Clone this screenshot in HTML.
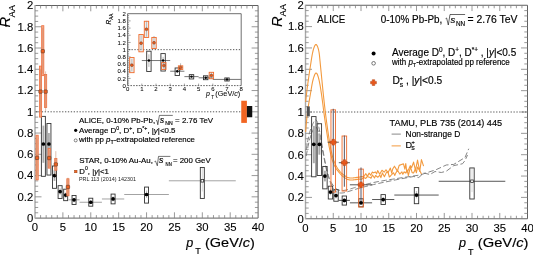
<!DOCTYPE html>
<html><head><meta charset="utf-8"><style>html,body{margin:0;padding:0;background:#fff;width:533px;height:256px;overflow:hidden}svg{display:block;will-change:transform}text{font-family:"Liberation Sans",sans-serif;stroke:#000;stroke-width:0.16px}</style></head><body>
<svg width="533" height="256" viewBox="0 0 533 256" font-family="Liberation Sans, sans-serif" fill="#000">
<rect width="533" height="256" fill="#fff"/>
<path d="M35.00 5.50H258.10V218.10H35.00" fill="none" stroke="#606060" stroke-width="1"/>
<line x1="35.00" y1="5.00" x2="35.00" y2="218.60" stroke="#a8a8a8" stroke-width="1.4"/>
<path d="M40.58 218.10v-3.0 M40.58 5.50v3.0 M46.16 218.10v-3.0 M46.16 5.50v3.0 M51.73 218.10v-3.0 M51.73 5.50v3.0 M57.31 218.10v-3.0 M57.31 5.50v3.0 M62.89 218.10v-5.8 M62.89 5.50v5.8 M68.47 218.10v-3.0 M68.47 5.50v3.0 M74.04 218.10v-3.0 M74.04 5.50v3.0 M79.62 218.10v-3.0 M79.62 5.50v3.0 M85.20 218.10v-3.0 M85.20 5.50v3.0 M90.78 218.10v-5.8 M90.78 5.50v5.8 M96.35 218.10v-3.0 M96.35 5.50v3.0 M101.93 218.10v-3.0 M101.93 5.50v3.0 M107.51 218.10v-3.0 M107.51 5.50v3.0 M113.08 218.10v-3.0 M113.08 5.50v3.0 M118.66 218.10v-5.8 M118.66 5.50v5.8 M124.24 218.10v-3.0 M124.24 5.50v3.0 M129.82 218.10v-3.0 M129.82 5.50v3.0 M135.39 218.10v-3.0 M135.39 5.50v3.0 M140.97 218.10v-3.0 M140.97 5.50v3.0 M146.55 218.10v-5.8 M146.55 5.50v5.8 M152.13 218.10v-3.0 M152.13 5.50v3.0 M157.70 218.10v-3.0 M157.70 5.50v3.0 M163.28 218.10v-3.0 M163.28 5.50v3.0 M168.86 218.10v-3.0 M168.86 5.50v3.0 M174.44 218.10v-5.8 M174.44 5.50v5.8 M180.01 218.10v-3.0 M180.01 5.50v3.0 M185.59 218.10v-3.0 M185.59 5.50v3.0 M191.17 218.10v-3.0 M191.17 5.50v3.0 M196.75 218.10v-3.0 M196.75 5.50v3.0 M202.32 218.10v-5.8 M202.32 5.50v5.8 M207.90 218.10v-3.0 M207.90 5.50v3.0 M213.48 218.10v-3.0 M213.48 5.50v3.0 M219.06 218.10v-3.0 M219.06 5.50v3.0 M224.63 218.10v-3.0 M224.63 5.50v3.0 M230.21 218.10v-5.8 M230.21 5.50v5.8 M235.79 218.10v-3.0 M235.79 5.50v3.0 M241.37 218.10v-3.0 M241.37 5.50v3.0 M246.94 218.10v-3.0 M246.94 5.50v3.0 M252.52 218.10v-3.0 M252.52 5.50v3.0 M35.00 212.78h3.2 M258.10 212.78h-3.2 M35.00 207.47h3.2 M258.10 207.47h-3.2 M35.00 202.16h3.2 M258.10 202.16h-3.2 M35.00 196.84h6.5 M258.10 196.84h-6.5 M35.00 191.53h3.2 M258.10 191.53h-3.2 M35.00 186.21h3.2 M258.10 186.21h-3.2 M35.00 180.89h3.2 M258.10 180.89h-3.2 M35.00 175.58h6.5 M258.10 175.58h-6.5 M35.00 170.26h3.2 M258.10 170.26h-3.2 M35.00 164.95h3.2 M258.10 164.95h-3.2 M35.00 159.63h3.2 M258.10 159.63h-3.2 M35.00 154.32h6.5 M258.10 154.32h-6.5 M35.00 149.00h3.2 M258.10 149.00h-3.2 M35.00 143.69h3.2 M258.10 143.69h-3.2 M35.00 138.38h3.2 M258.10 138.38h-3.2 M35.00 133.06h6.5 M258.10 133.06h-6.5 M35.00 127.74h3.2 M258.10 127.74h-3.2 M35.00 122.43h3.2 M258.10 122.43h-3.2 M35.00 117.11h3.2 M258.10 117.11h-3.2 M35.00 111.80h6.5 M258.10 111.80h-6.5 M35.00 106.48h3.2 M258.10 106.48h-3.2 M35.00 101.17h3.2 M258.10 101.17h-3.2 M35.00 95.85h3.2 M258.10 95.85h-3.2 M35.00 90.54h6.5 M258.10 90.54h-6.5 M35.00 85.22h3.2 M258.10 85.22h-3.2 M35.00 79.91h3.2 M258.10 79.91h-3.2 M35.00 74.59h3.2 M258.10 74.59h-3.2 M35.00 69.28h6.5 M258.10 69.28h-6.5 M35.00 63.96h3.2 M258.10 63.96h-3.2 M35.00 58.65h3.2 M258.10 58.65h-3.2 M35.00 53.34h3.2 M258.10 53.34h-3.2 M35.00 48.02h6.5 M258.10 48.02h-6.5 M35.00 42.70h3.2 M258.10 42.70h-3.2 M35.00 37.39h3.2 M258.10 37.39h-3.2 M35.00 32.07h3.2 M258.10 32.07h-3.2 M35.00 26.76h6.5 M258.10 26.76h-6.5 M35.00 21.44h3.2 M258.10 21.44h-3.2 M35.00 16.13h3.2 M258.10 16.13h-3.2 M35.00 10.81h3.2 M258.10 10.81h-3.2" stroke="#808080" stroke-width="0.8" fill="none"/>
<text x="35.00" y="231.30" font-size="11.3" text-anchor="middle" style="stroke-width:0.1px">0</text>
<text x="62.89" y="231.30" font-size="11.3" text-anchor="middle" style="stroke-width:0.1px">5</text>
<text x="90.78" y="231.30" font-size="11.3" text-anchor="middle" style="stroke-width:0.1px">10</text>
<text x="118.66" y="231.30" font-size="11.3" text-anchor="middle" style="stroke-width:0.1px">15</text>
<text x="146.55" y="231.30" font-size="11.3" text-anchor="middle" style="stroke-width:0.1px">20</text>
<text x="174.44" y="231.30" font-size="11.3" text-anchor="middle" style="stroke-width:0.1px">25</text>
<text x="202.32" y="231.30" font-size="11.3" text-anchor="middle" style="stroke-width:0.1px">30</text>
<text x="230.21" y="231.30" font-size="11.3" text-anchor="middle" style="stroke-width:0.1px">35</text>
<text x="258.10" y="231.30" font-size="11.3" text-anchor="middle" style="stroke-width:0.1px">40</text>
<text x="33.20" y="221.90" font-size="11.3" text-anchor="end" style="stroke-width:0.1px">0</text>
<text x="33.20" y="200.64" font-size="11.3" text-anchor="end" style="stroke-width:0.1px">0.2</text>
<text x="33.20" y="179.38" font-size="11.3" text-anchor="end" style="stroke-width:0.1px">0.4</text>
<text x="33.20" y="158.12" font-size="11.3" text-anchor="end" style="stroke-width:0.1px">0.6</text>
<text x="33.20" y="136.86" font-size="11.3" text-anchor="end" style="stroke-width:0.1px">0.8</text>
<text x="33.20" y="115.60" font-size="11.3" text-anchor="end" style="stroke-width:0.1px">1</text>
<text x="33.20" y="94.34" font-size="11.3" text-anchor="end" style="stroke-width:0.1px">1.2</text>
<text x="33.20" y="73.08" font-size="11.3" text-anchor="end" style="stroke-width:0.1px">1.4</text>
<text x="33.20" y="51.82" font-size="11.3" text-anchor="end" style="stroke-width:0.1px">1.6</text>
<text x="33.20" y="30.56" font-size="11.3" text-anchor="end" style="stroke-width:0.1px">1.8</text>
<text x="33.20" y="9.30" font-size="11.3" text-anchor="end" style="stroke-width:0.1px">2</text>
<line x1="36.00" y1="111.80" x2="241.00" y2="111.80" stroke="#444" stroke-width="0.9" stroke-dasharray="1.3,1.6"/>
<line x1="43.37" y1="125.62" x2="43.37" y2="162.82" stroke="#aaa" stroke-width="1.80"/>
<rect x="41.37" y="116.37" width="4.00" height="59.95" fill="none" stroke="#333" stroke-width="0.9"/>
<circle cx="43.37" cy="144.01" r="1.85" fill="#000"/>
<line x1="48.94" y1="133.06" x2="48.94" y2="154.32" stroke="#aaa" stroke-width="1.80"/>
<rect x="46.94" y="123.49" width="4.00" height="51.56" fill="none" stroke="#333" stroke-width="0.9"/>
<circle cx="48.94" cy="144.01" r="1.85" fill="#000"/>
<line x1="54.52" y1="170.26" x2="54.52" y2="180.89" stroke="#aaa" stroke-width="1.80"/>
<rect x="52.52" y="166.01" width="4.00" height="22.32" fill="none" stroke="#333" stroke-width="0.9"/>
<circle cx="54.52" cy="175.58" r="1.85" fill="#000"/>
<line x1="60.10" y1="188.34" x2="60.10" y2="194.71" stroke="#c4c4c4" stroke-width="1.10"/>
<rect x="58.10" y="185.68" width="4.00" height="12.76" fill="none" stroke="#333" stroke-width="0.9"/>
<circle cx="60.10" cy="191.53" r="1.85" fill="#000"/>
<line x1="65.68" y1="192.59" x2="65.68" y2="197.90" stroke="#c4c4c4" stroke-width="1.10"/>
<rect x="63.68" y="189.19" width="4.00" height="11.48" fill="none" stroke="#333" stroke-width="0.9"/>
<circle cx="65.68" cy="195.03" r="1.85" fill="#000"/>
<line x1="68.47" y1="199.82" x2="79.62" y2="199.82" stroke="#999" stroke-width="0.9"/>
<line x1="74.04" y1="197.90" x2="74.04" y2="202.16" stroke="#c4c4c4" stroke-width="1.10"/>
<rect x="72.04" y="195.46" width="4.00" height="9.04" fill="none" stroke="#333" stroke-width="0.9"/>
<circle cx="74.04" cy="199.82" r="1.85" fill="#000"/>
<line x1="79.62" y1="202.26" x2="101.93" y2="202.26" stroke="#999" stroke-width="0.9"/>
<line x1="90.78" y1="200.03" x2="90.78" y2="204.28" stroke="#c4c4c4" stroke-width="1.10"/>
<rect x="88.78" y="198.22" width="4.00" height="7.97" fill="none" stroke="#333" stroke-width="0.9"/>
<circle cx="90.78" cy="202.26" r="1.85" fill="#000"/>
<line x1="101.93" y1="198.97" x2="124.24" y2="198.97" stroke="#999" stroke-width="0.9"/>
<line x1="113.08" y1="196.31" x2="113.08" y2="201.62" stroke="#c4c4c4" stroke-width="1.10"/>
<rect x="111.08" y="194.08" width="4.00" height="9.78" fill="none" stroke="#333" stroke-width="0.9"/>
<circle cx="113.08" cy="198.97" r="1.85" fill="#000"/>
<line x1="124.24" y1="194.50" x2="168.86" y2="194.50" stroke="#999" stroke-width="0.9"/>
<line x1="146.55" y1="190.46" x2="146.55" y2="197.90" stroke="#c4c4c4" stroke-width="1.10"/>
<rect x="144.55" y="187.06" width="4.00" height="16.05" fill="none" stroke="#333" stroke-width="0.9"/>
<circle cx="146.55" cy="194.50" r="1.85" fill="#000"/>
<line x1="168.86" y1="180.79" x2="235.79" y2="180.79" stroke="#999" stroke-width="0.9"/>
<line x1="202.32" y1="167.50" x2="202.32" y2="191.53" stroke="#d0d0d0" stroke-width="0.80"/>
<rect x="200.32" y="167.50" width="4.00" height="30.93" fill="none" stroke="#333" stroke-width="0.9"/>
<rect x="201.02" y="179.49" width="2.60" height="2.60" fill="#fff" stroke="#333" stroke-width="0.8"/>
<rect x="36.02" y="135.19" width="2.20" height="44.65" fill="#f5ab88" stroke="#ef7040" stroke-width="0.8"/>
<line x1="37.12" y1="139.44" x2="37.12" y2="175.58" stroke="#c08060" stroke-width="0.5"/>
<rect x="35.42" y="156.13" width="3.40" height="3.40" rx="0.6" fill="#f06020" stroke="#5a3a2a" stroke-width="0.6"/>
<rect x="39.42" y="66.09" width="2.20" height="51.02" fill="#f5ab88" stroke="#ef7040" stroke-width="0.8"/>
<line x1="40.52" y1="69.28" x2="40.52" y2="111.80" stroke="#c08060" stroke-width="0.5"/>
<rect x="38.82" y="89.90" width="3.40" height="3.40" rx="0.6" fill="#f06020" stroke="#5a3a2a" stroke-width="0.6"/>
<rect x="41.65" y="25.70" width="2.20" height="49.96" fill="#f5ab88" stroke="#ef7040" stroke-width="0.8"/>
<line x1="42.75" y1="27.82" x2="42.75" y2="73.53" stroke="#c08060" stroke-width="0.5"/>
<rect x="41.05" y="49.51" width="3.40" height="3.40" rx="0.6" fill="#f06020" stroke="#5a3a2a" stroke-width="0.6"/>
<rect x="44.50" y="74.59" width="2.20" height="32.95" fill="#f5ab88" stroke="#ef7040" stroke-width="0.8"/>
<line x1="45.60" y1="71.41" x2="45.60" y2="111.27" stroke="#c08060" stroke-width="0.5"/>
<rect x="43.90" y="89.90" width="3.40" height="3.40" rx="0.6" fill="#f06020" stroke="#5a3a2a" stroke-width="0.6"/>
<rect x="48.12" y="148.47" width="2.20" height="19.67" fill="#f5ab88" stroke="#ef7040" stroke-width="0.8"/>
<line x1="49.22" y1="150.07" x2="49.22" y2="167.08" stroke="#c08060" stroke-width="0.5"/>
<rect x="47.52" y="156.34" width="3.40" height="3.40" rx="0.6" fill="#f06020" stroke="#5a3a2a" stroke-width="0.6"/>
<rect x="54.70" y="158.57" width="2.20" height="11.69" fill="#f5ab88" stroke="#ef7040" stroke-width="0.8"/>
<line x1="55.80" y1="151.13" x2="55.80" y2="175.58" stroke="#c08060" stroke-width="0.5"/>
<rect x="54.10" y="162.72" width="3.40" height="3.40" rx="0.6" fill="#f06020" stroke="#5a3a2a" stroke-width="0.6"/>
<rect x="66.81" y="178.77" width="2.20" height="17.01" fill="#f5ab88" stroke="#ef7040" stroke-width="0.8"/>
<line x1="67.91" y1="177.71" x2="67.91" y2="195.78" stroke="#c08060" stroke-width="0.5"/>
<rect x="66.21" y="185.25" width="3.40" height="3.40" rx="0.6" fill="#f06020" stroke="#5a3a2a" stroke-width="0.6"/>
<rect x="241.25" y="100.75" width="5.65" height="22.15" fill="#f26522" stroke="none" stroke-width="0"/>
<rect x="246.90" y="106.00" width="5.35" height="11.25" fill="#111" stroke="none" stroke-width="0"/>
<g transform="translate(10.4,27.4) rotate(-90)" style="stroke-width:0.05px"><text x="0" y="0" font-size="14.8" font-style="italic" style="stroke-width:0.08px">R</text><text x="9.9" y="4.85" font-size="9.4" style="stroke-width:0.08px">AA</text></g>
<text x="186.2" y="247.3" font-size="12.6" font-style="italic">p</text>
<text x="195.2" y="254.3" font-size="9">T</text>
<text x="205.0" y="247.3" font-size="12.6" textLength="49.9" lengthAdjust="spacingAndGlyphs">(GeV/<tspan font-style="italic">c</tspan>)</text>
<text x="79.00" y="122.60" font-size="7.9" text-anchor="start" textLength="76.20" lengthAdjust="spacingAndGlyphs" >ALICE, 0-10% Pb-Pb,</text>
<path d="M156.00 121.00 L157.00 120.40 L157.80 124.80 L159.40 115.40 H172.80" stroke="#000" stroke-width="0.55" fill="none"/>
<text x="159.9" y="122.6" font-size="8.2" font-style="italic">s</text>
<text x="165.3" y="124.6" font-size="5.2" textLength="7.4" lengthAdjust="spacingAndGlyphs">NN</text>
<text x="175.10" y="122.60" font-size="7.9" text-anchor="start" textLength="38.00" lengthAdjust="spacingAndGlyphs" >= 2.76 TeV</text>
<circle cx="75.7" cy="130.3" r="1.6" fill="#000"/>
<text x="79.0" y="132.6" font-size="7.9" textLength="96.5" lengthAdjust="spacingAndGlyphs">Average D<tspan dy="-3" font-size="5.2">0</tspan><tspan dy="3">, D</tspan><tspan dy="-3" font-size="5.2">+</tspan><tspan dy="3">, D</tspan><tspan dy="-3" font-size="5.2">*+</tspan><tspan dy="3">, |</tspan><tspan font-style="italic">y</tspan>|&lt;0.5</text>
<circle cx="75.7" cy="140.4" r="1.5" fill="#fff" stroke="#333" stroke-width="0.6"/>
<text x="79.0" y="142.1" font-size="7.3" textLength="116" lengthAdjust="spacingAndGlyphs">with pp <tspan font-style="italic">p</tspan><tspan dy="2" font-size="5">T</tspan><tspan dy="-2">-extrapolated reference</tspan></text>
<text x="79.35" y="163.40" font-size="7.9" text-anchor="start" textLength="73.60" lengthAdjust="spacingAndGlyphs" >STAR, 0-10% Au-Au,</text>
<path d="M154.50 161.60 L155.50 161.00 L157.30 165.80 L158.50 156.40 H170.40" stroke="#000" stroke-width="0.55" fill="none"/>
<text x="159.0" y="163.4" font-size="8.8" font-style="italic">s</text>
<text x="165.6" y="165.7" font-size="5.4" textLength="6.2" lengthAdjust="spacingAndGlyphs">NN</text>
<text x="173.00" y="163.40" font-size="7.9" text-anchor="start" textLength="37.60" lengthAdjust="spacingAndGlyphs" >= 200 GeV</text>
<rect x="74.45" y="170.2" width="2.6" height="2.6" fill="#f26522" stroke="#8a3a10" stroke-width="0.4"/>
<text x="79.35" y="173.75" font-size="7.9" textLength="29.6" lengthAdjust="spacingAndGlyphs">D<tspan dy="-3.4" font-size="5.2">0</tspan><tspan dy="3.4">, |</tspan><tspan font-style="italic">y</tspan>|&lt;1</text>
<text x="79.0" y="181.2" font-size="5.0" textLength="56.9" lengthAdjust="spacingAndGlyphs" fill="#222" style="stroke-width:0">PRL 113 (2014) 142301</text>
<rect x="127.60" y="13.70" width="113.60" height="71.90" fill="#fff" stroke="none"/>
<path d="M127.60 85.60V13.70H241.20V85.60" fill="none" stroke="#606060" stroke-width="0.9"/>
<line x1="127.60" y1="85.60" x2="241.20" y2="85.60" stroke="#555" stroke-width="0.9" stroke-dasharray="1.6,1.2"/>
<path d="M127.60 83.80h1.5 M127.60 82.00h1.5 M127.60 80.21h1.5 M127.60 78.41h3 M127.60 76.61h1.5 M127.60 74.81h1.5 M127.60 73.02h1.5 M127.60 71.22h3 M127.60 69.42h1.5 M127.60 67.62h1.5 M127.60 65.83h1.5 M127.60 64.03h3 M127.60 62.23h1.5 M127.60 60.43h1.5 M127.60 58.64h1.5 M127.60 56.84h3 M127.60 55.04h1.5 M127.60 53.24h1.5 M127.60 51.45h1.5 M127.60 49.65h3 M127.60 47.85h1.5 M127.60 46.05h1.5 M127.60 44.26h1.5 M127.60 42.46h3 M127.60 40.66h1.5 M127.60 38.86h1.5 M127.60 37.07h1.5 M127.60 35.27h3 M127.60 33.47h1.5 M127.60 31.67h1.5 M127.60 29.88h1.5 M127.60 28.08h3 M127.60 26.28h1.5 M127.60 24.48h1.5 M127.60 22.69h1.5 M127.60 20.89h3 M127.60 19.09h1.5 M127.60 17.29h1.5 M127.60 15.50h1.5 M141.80 85.60v-2 M156.00 85.60v-2 M170.20 85.60v-2 M184.40 85.60v-2 M198.60 85.60v-2 M212.80 85.60v-2 M227.00 85.60v-2" stroke="#606060" stroke-width="0.6" fill="none"/>
<text x="127.60" y="90.90" font-size="6.0" text-anchor="middle"  style="stroke-width:0.05px">0</text>
<text x="141.80" y="90.90" font-size="6.0" text-anchor="middle"  style="stroke-width:0.05px">1</text>
<text x="156.00" y="90.90" font-size="6.0" text-anchor="middle"  style="stroke-width:0.05px">2</text>
<text x="170.20" y="90.90" font-size="6.0" text-anchor="middle"  style="stroke-width:0.05px">3</text>
<text x="184.40" y="90.90" font-size="6.0" text-anchor="middle"  style="stroke-width:0.05px">4</text>
<text x="198.60" y="90.90" font-size="6.0" text-anchor="middle"  style="stroke-width:0.05px">5</text>
<text x="212.80" y="90.90" font-size="6.0" text-anchor="middle"  style="stroke-width:0.05px">6</text>
<text x="227.00" y="90.90" font-size="6.0" text-anchor="middle"  style="stroke-width:0.05px">7</text>
<text x="241.20" y="90.90" font-size="6.0" text-anchor="middle"  style="stroke-width:0.05px">8</text>
<text x="125.80" y="87.80" font-size="6.0" text-anchor="end"  style="stroke-width:0.05px">0</text>
<text x="125.80" y="80.61" font-size="6.0" text-anchor="end"  style="stroke-width:0.05px">0.2</text>
<text x="125.80" y="73.42" font-size="6.0" text-anchor="end"  style="stroke-width:0.05px">0.4</text>
<text x="125.80" y="66.23" font-size="6.0" text-anchor="end"  style="stroke-width:0.05px">0.6</text>
<text x="125.80" y="59.04" font-size="6.0" text-anchor="end"  style="stroke-width:0.05px">0.8</text>
<text x="125.80" y="51.85" font-size="6.0" text-anchor="end"  style="stroke-width:0.05px">1</text>
<text x="125.80" y="44.66" font-size="6.0" text-anchor="end"  style="stroke-width:0.05px">1.2</text>
<text x="125.80" y="37.47" font-size="6.0" text-anchor="end"  style="stroke-width:0.05px">1.4</text>
<text x="125.80" y="30.28" font-size="6.0" text-anchor="end"  style="stroke-width:0.05px">1.6</text>
<text x="125.80" y="23.09" font-size="6.0" text-anchor="end"  style="stroke-width:0.05px">1.8</text>
<text x="125.80" y="15.90" font-size="6.0" text-anchor="end"  style="stroke-width:0.05px">2</text>
<line x1="128.60" y1="49.65" x2="241.20" y2="49.65" stroke="#444" stroke-width="0.9" stroke-dasharray="1.3,1.6"/>
<g transform="translate(111,24.4) rotate(-90)"><text x="0" y="0" font-size="6.4" font-style="italic">R</text><text x="4.6" y="2.1" font-size="4.6">AA</text></g>
<text x="206.0" y="96.3" font-size="7.0" font-style="italic" style="stroke-width:0.05px">p</text>
<text x="211.3" y="98.9" font-size="4.8" style="stroke-width:0.05px">T</text>
<text x="215.3" y="96.3" font-size="7.0" textLength="25.0" lengthAdjust="spacingAndGlyphs" style="stroke-width:0.05px">(GeV/<tspan font-style="italic">c</tspan>)</text>
<line x1="141.80" y1="60.54" x2="156.00" y2="60.54" stroke="#666" stroke-width="0.9"/>
<line x1="148.90" y1="54.32" x2="148.90" y2="66.91" stroke="#888" stroke-width="0.6"/>
<rect x="146.70" y="51.20" width="4.40" height="20.28" fill="none" stroke="#333" stroke-width="0.9"/>
<circle cx="148.90" cy="60.54" r="1.2" fill="#000"/>
<line x1="156.00" y1="60.54" x2="170.20" y2="60.54" stroke="#666" stroke-width="0.9"/>
<line x1="163.10" y1="56.84" x2="163.10" y2="64.03" stroke="#888" stroke-width="0.6"/>
<rect x="160.90" y="53.60" width="4.40" height="17.44" fill="none" stroke="#333" stroke-width="0.9"/>
<circle cx="163.10" cy="60.54" r="1.2" fill="#000"/>
<line x1="170.20" y1="71.22" x2="184.40" y2="71.22" stroke="#666" stroke-width="0.9"/>
<line x1="177.30" y1="69.42" x2="177.30" y2="73.02" stroke="#888" stroke-width="0.6"/>
<rect x="175.10" y="67.98" width="4.40" height="7.55" fill="none" stroke="#333" stroke-width="0.9"/>
<circle cx="177.30" cy="71.22" r="1.2" fill="#000"/>
<line x1="184.40" y1="76.61" x2="198.60" y2="76.61" stroke="#666" stroke-width="0.9"/>
<line x1="191.50" y1="75.53" x2="191.50" y2="77.69" stroke="#888" stroke-width="0.6"/>
<rect x="189.30" y="74.64" width="4.40" height="4.31" fill="none" stroke="#333" stroke-width="0.9"/>
<circle cx="191.50" cy="76.61" r="1.2" fill="#000"/>
<line x1="198.60" y1="77.80" x2="212.80" y2="77.80" stroke="#666" stroke-width="0.9"/>
<line x1="205.70" y1="76.97" x2="205.70" y2="78.77" stroke="#888" stroke-width="0.6"/>
<rect x="203.50" y="75.82" width="4.40" height="3.88" fill="none" stroke="#333" stroke-width="0.9"/>
<circle cx="205.70" cy="77.80" r="1.2" fill="#000"/>
<line x1="212.80" y1="79.42" x2="241.20" y2="79.42" stroke="#666" stroke-width="0.9"/>
<line x1="227.00" y1="78.77" x2="227.00" y2="80.21" stroke="#888" stroke-width="0.6"/>
<rect x="224.80" y="77.94" width="4.40" height="3.06" fill="none" stroke="#333" stroke-width="0.9"/>
<circle cx="227.00" cy="79.42" r="1.2" fill="#000"/>
<line x1="131.86" y1="59.00" x2="131.86" y2="71.22" stroke="#888" stroke-width="0.6"/>
<rect x="129.66" y="57.56" width="4.40" height="15.10" fill="rgba(200,200,200,0.35)" stroke="#ef6a2a" stroke-width="0.9"/>
<circle cx="131.86" cy="65.22" r="1.45" fill="#ea5a1c" stroke="#6a3a20" stroke-width="0.45"/>
<line x1="141.09" y1="35.27" x2="141.09" y2="49.65" stroke="#888" stroke-width="0.6"/>
<rect x="138.89" y="34.55" width="4.40" height="17.26" fill="rgba(200,200,200,0.35)" stroke="#ef6a2a" stroke-width="0.9"/>
<circle cx="141.09" cy="43.18" r="1.45" fill="#ea5a1c" stroke="#6a3a20" stroke-width="0.45"/>
<line x1="146.49" y1="20.89" x2="146.49" y2="36.71" stroke="#888" stroke-width="0.6"/>
<rect x="144.29" y="21.25" width="4.40" height="16.18" fill="rgba(200,200,200,0.35)" stroke="#ef6a2a" stroke-width="0.9"/>
<circle cx="146.49" cy="29.30" r="1.45" fill="#ea5a1c" stroke="#6a3a20" stroke-width="0.45"/>
<line x1="154.01" y1="35.99" x2="154.01" y2="48.93" stroke="#888" stroke-width="0.6"/>
<rect x="151.81" y="37.43" width="4.40" height="11.14" fill="rgba(200,200,200,0.35)" stroke="#ef6a2a" stroke-width="0.9"/>
<circle cx="154.01" cy="42.82" r="1.45" fill="#ea5a1c" stroke="#6a3a20" stroke-width="0.45"/>
<line x1="163.81" y1="61.87" x2="163.81" y2="69.06" stroke="#888" stroke-width="0.6"/>
<rect x="161.61" y="62.59" width="4.40" height="6.83" fill="rgba(200,200,200,0.35)" stroke="#ef6a2a" stroke-width="0.9"/>
<circle cx="163.81" cy="65.61" r="1.45" fill="#ea5a1c" stroke="#6a3a20" stroke-width="0.45"/>
<line x1="180.57" y1="63.31" x2="180.57" y2="71.22" stroke="#888" stroke-width="0.6"/>
<rect x="178.37" y="65.83" width="4.40" height="3.59" fill="rgba(200,200,200,0.35)" stroke="#ef6a2a" stroke-width="0.9"/>
<circle cx="180.57" cy="67.62" r="1.45" fill="#ea5a1c" stroke="#6a3a20" stroke-width="0.45"/>
<line x1="211.38" y1="72.30" x2="211.38" y2="78.41" stroke="#888" stroke-width="0.6"/>
<rect x="209.18" y="72.30" width="4.40" height="6.47" fill="rgba(200,200,200,0.35)" stroke="#ef6a2a" stroke-width="0.9"/>
<circle cx="211.38" cy="75.53" r="1.45" fill="#ea5a1c" stroke="#6a3a20" stroke-width="0.45"/>
<path d="M305.50 5.25H527.50V218.75H305.50" fill="none" stroke="#606060" stroke-width="1"/>
<line x1="305.50" y1="4.75" x2="305.50" y2="219.25" stroke="#a8a8a8" stroke-width="1.4"/>
<path d="M311.05 218.75v-3.0 M311.05 5.25v3.0 M316.60 218.75v-3.0 M316.60 5.25v3.0 M322.15 218.75v-3.0 M322.15 5.25v3.0 M327.70 218.75v-3.0 M327.70 5.25v3.0 M333.25 218.75v-5.8 M333.25 5.25v5.8 M338.80 218.75v-3.0 M338.80 5.25v3.0 M344.35 218.75v-3.0 M344.35 5.25v3.0 M349.90 218.75v-3.0 M349.90 5.25v3.0 M355.45 218.75v-3.0 M355.45 5.25v3.0 M361.00 218.75v-5.8 M361.00 5.25v5.8 M366.55 218.75v-3.0 M366.55 5.25v3.0 M372.10 218.75v-3.0 M372.10 5.25v3.0 M377.65 218.75v-3.0 M377.65 5.25v3.0 M383.20 218.75v-3.0 M383.20 5.25v3.0 M388.75 218.75v-5.8 M388.75 5.25v5.8 M394.30 218.75v-3.0 M394.30 5.25v3.0 M399.85 218.75v-3.0 M399.85 5.25v3.0 M405.40 218.75v-3.0 M405.40 5.25v3.0 M410.95 218.75v-3.0 M410.95 5.25v3.0 M416.50 218.75v-5.8 M416.50 5.25v5.8 M422.05 218.75v-3.0 M422.05 5.25v3.0 M427.60 218.75v-3.0 M427.60 5.25v3.0 M433.15 218.75v-3.0 M433.15 5.25v3.0 M438.70 218.75v-3.0 M438.70 5.25v3.0 M444.25 218.75v-5.8 M444.25 5.25v5.8 M449.80 218.75v-3.0 M449.80 5.25v3.0 M455.35 218.75v-3.0 M455.35 5.25v3.0 M460.90 218.75v-3.0 M460.90 5.25v3.0 M466.45 218.75v-3.0 M466.45 5.25v3.0 M472.00 218.75v-5.8 M472.00 5.25v5.8 M477.55 218.75v-3.0 M477.55 5.25v3.0 M483.10 218.75v-3.0 M483.10 5.25v3.0 M488.65 218.75v-3.0 M488.65 5.25v3.0 M494.20 218.75v-3.0 M494.20 5.25v3.0 M499.75 218.75v-5.8 M499.75 5.25v5.8 M505.30 218.75v-3.0 M505.30 5.25v3.0 M510.85 218.75v-3.0 M510.85 5.25v3.0 M516.40 218.75v-3.0 M516.40 5.25v3.0 M521.95 218.75v-3.0 M521.95 5.25v3.0 M305.50 213.41h3.2 M527.50 213.41h-3.2 M305.50 208.07h3.2 M527.50 208.07h-3.2 M305.50 202.74h3.2 M527.50 202.74h-3.2 M305.50 197.40h6.5 M527.50 197.40h-6.5 M305.50 192.06h3.2 M527.50 192.06h-3.2 M305.50 186.72h3.2 M527.50 186.72h-3.2 M305.50 181.39h3.2 M527.50 181.39h-3.2 M305.50 176.05h6.5 M527.50 176.05h-6.5 M305.50 170.71h3.2 M527.50 170.71h-3.2 M305.50 165.38h3.2 M527.50 165.38h-3.2 M305.50 160.04h3.2 M527.50 160.04h-3.2 M305.50 154.70h6.5 M527.50 154.70h-6.5 M305.50 149.36h3.2 M527.50 149.36h-3.2 M305.50 144.02h3.2 M527.50 144.02h-3.2 M305.50 138.69h3.2 M527.50 138.69h-3.2 M305.50 133.35h6.5 M527.50 133.35h-6.5 M305.50 128.01h3.2 M527.50 128.01h-3.2 M305.50 122.67h3.2 M527.50 122.67h-3.2 M305.50 117.34h3.2 M527.50 117.34h-3.2 M305.50 112.00h6.5 M527.50 112.00h-6.5 M305.50 106.66h3.2 M527.50 106.66h-3.2 M305.50 101.32h3.2 M527.50 101.32h-3.2 M305.50 95.99h3.2 M527.50 95.99h-3.2 M305.50 90.65h6.5 M527.50 90.65h-6.5 M305.50 85.31h3.2 M527.50 85.31h-3.2 M305.50 79.97h3.2 M527.50 79.97h-3.2 M305.50 74.64h3.2 M527.50 74.64h-3.2 M305.50 69.30h6.5 M527.50 69.30h-6.5 M305.50 63.96h3.2 M527.50 63.96h-3.2 M305.50 58.62h3.2 M527.50 58.62h-3.2 M305.50 53.29h3.2 M527.50 53.29h-3.2 M305.50 47.95h6.5 M527.50 47.95h-6.5 M305.50 42.61h3.2 M527.50 42.61h-3.2 M305.50 37.27h3.2 M527.50 37.27h-3.2 M305.50 31.94h3.2 M527.50 31.94h-3.2 M305.50 26.60h6.5 M527.50 26.60h-6.5 M305.50 21.26h3.2 M527.50 21.26h-3.2 M305.50 15.92h3.2 M527.50 15.92h-3.2 M305.50 10.59h3.2 M527.50 10.59h-3.2" stroke="#808080" stroke-width="0.8" fill="none"/>
<text x="305.50" y="231.95" font-size="11.3" text-anchor="middle" style="stroke-width:0.1px">0</text>
<text x="333.25" y="231.95" font-size="11.3" text-anchor="middle" style="stroke-width:0.1px">5</text>
<text x="361.00" y="231.95" font-size="11.3" text-anchor="middle" style="stroke-width:0.1px">10</text>
<text x="388.75" y="231.95" font-size="11.3" text-anchor="middle" style="stroke-width:0.1px">15</text>
<text x="416.50" y="231.95" font-size="11.3" text-anchor="middle" style="stroke-width:0.1px">20</text>
<text x="444.25" y="231.95" font-size="11.3" text-anchor="middle" style="stroke-width:0.1px">25</text>
<text x="472.00" y="231.95" font-size="11.3" text-anchor="middle" style="stroke-width:0.1px">30</text>
<text x="499.75" y="231.95" font-size="11.3" text-anchor="middle" style="stroke-width:0.1px">35</text>
<text x="527.50" y="231.95" font-size="11.3" text-anchor="middle" style="stroke-width:0.1px">40</text>
<text x="303.70" y="222.55" font-size="11.3" text-anchor="end" style="stroke-width:0.1px">0</text>
<text x="303.70" y="201.20" font-size="11.3" text-anchor="end" style="stroke-width:0.1px">0.2</text>
<text x="303.70" y="179.85" font-size="11.3" text-anchor="end" style="stroke-width:0.1px">0.4</text>
<text x="303.70" y="158.50" font-size="11.3" text-anchor="end" style="stroke-width:0.1px">0.6</text>
<text x="303.70" y="137.15" font-size="11.3" text-anchor="end" style="stroke-width:0.1px">0.8</text>
<text x="303.70" y="115.80" font-size="11.3" text-anchor="end" style="stroke-width:0.1px">1</text>
<text x="303.70" y="94.45" font-size="11.3" text-anchor="end" style="stroke-width:0.1px">1.2</text>
<text x="303.70" y="73.10" font-size="11.3" text-anchor="end" style="stroke-width:0.1px">1.4</text>
<text x="303.70" y="51.75" font-size="11.3" text-anchor="end" style="stroke-width:0.1px">1.6</text>
<text x="303.70" y="30.40" font-size="11.3" text-anchor="end" style="stroke-width:0.1px">1.8</text>
<text x="303.70" y="9.05" font-size="11.3" text-anchor="end" style="stroke-width:0.1px">2</text>
<line x1="310.50" y1="112.00" x2="526.50" y2="112.00" stroke="#444" stroke-width="0.9" stroke-dasharray="1.3,1.6"/>
<path d="M306.20 150.00 L306.42 148.73 L306.71 147.02 L307.05 144.97 L307.43 142.72 L307.85 140.37 L308.29 138.06 L308.74 135.89 L309.20 134.00 L309.69 132.29 L310.23 130.60 L310.80 128.96 L311.38 127.41 L311.96 125.96 L312.52 124.64 L313.04 123.48 L313.50 122.50 L313.90 121.70 L314.25 121.04 L314.56 120.53 L314.86 120.16 L315.13 119.92 L315.41 119.82 L315.70 119.84 L316.00 120.00 L316.31 120.25 L316.62 120.60 L316.93 121.06 L317.24 121.66 L317.56 122.42 L317.89 123.39 L318.24 124.57 L318.60 126.00 L318.98 127.74 L319.38 129.79 L319.79 132.08 L320.21 134.56 L320.65 137.16 L321.09 139.80 L321.54 142.44 L322.00 145.00 L322.47 147.58 L322.96 150.27 L323.46 153.04 L323.96 155.81 L324.47 158.55 L324.99 161.20 L325.50 163.70 L326.00 166.00 L326.49 168.12 L326.95 170.12 L327.41 172.00 L327.88 173.78 L328.35 175.46 L328.86 177.05 L329.40 178.56 L330.00 180.00 L330.65 181.37 L331.36 182.66 L332.10 183.88 L332.88 185.00 L333.66 186.03 L334.45 186.96 L335.24 187.79 L336.00 188.50 L336.74 189.08 L337.45 189.54 L338.16 189.88 L338.88 190.12 L339.60 190.29 L340.36 190.40 L341.15 190.46 L342.00 190.50 L342.89 190.49 L343.81 190.41 L344.77 190.26 L345.75 190.06 L346.77 189.83 L347.81 189.56 L348.89 189.28 L350.00 189.00 L351.11 188.70 L352.22 188.38 L353.34 188.03 L354.50 187.66 L355.72 187.26 L357.03 186.86 L358.45 186.43 L360.00 186.00 L361.66 185.55 L363.39 185.07 L365.21 184.57 L367.12 184.06 L369.15 183.54 L371.30 183.02 L373.58 182.51 L376.00 182.00 L378.78 181.47 L382.00 180.91 L385.47 180.32 L389.00 179.75 L392.41 179.21 L395.50 178.72 L398.09 178.31 L400.00 178.00 L420.00 175.00 L436.25 169.60 L446.25 165.00 L453.75 164.40 L465.00 157.50 L468.75 148.75" fill="none" stroke="#777" stroke-width="0.9" stroke-linejoin="round" stroke-dasharray="5.5,2.5"/>
<path d="M306.20 156.00 L306.45 154.73 L306.78 153.01 L307.17 150.95 L307.60 148.69 L308.07 146.34 L308.55 144.02 L309.03 141.87 L309.50 140.00 L309.98 138.32 L310.49 136.69 L311.01 135.11 L311.55 133.62 L312.08 132.25 L312.59 131.00 L313.07 129.91 L313.50 129.00 L313.88 128.26 L314.22 127.66 L314.53 127.20 L314.81 126.88 L315.09 126.70 L315.38 126.66 L315.67 126.76 L316.00 127.00 L316.35 127.38 L316.70 127.91 L317.07 128.57 L317.44 129.38 L317.82 130.32 L318.20 131.41 L318.60 132.63 L319.00 134.00 L319.41 135.54 L319.83 137.27 L320.25 139.17 L320.69 141.19 L321.13 143.31 L321.58 145.51 L322.04 147.75 L322.50 150.00 L322.97 152.35 L323.45 154.86 L323.94 157.47 L324.44 160.12 L324.94 162.76 L325.45 165.33 L325.97 167.76 L326.50 170.00 L327.04 172.08 L327.58 174.07 L328.13 175.98 L328.69 177.78 L329.25 179.49 L329.83 181.10 L330.41 182.60 L331.00 184.00 L331.59 185.29 L332.19 186.47 L332.79 187.55 L333.41 188.53 L334.03 189.41 L334.67 190.20 L335.32 190.89 L336.00 191.50 L336.69 192.00 L337.38 192.38 L338.09 192.66 L338.81 192.84 L339.56 192.96 L340.34 193.01 L341.15 193.02 L342.00 193.00 L342.89 192.92 L343.81 192.77 L344.77 192.55 L345.75 192.28 L346.77 191.98 L347.81 191.65 L348.89 191.32 L350.00 191.00 L351.11 190.68 L352.22 190.34 L353.34 189.99 L354.50 189.62 L355.72 189.24 L357.03 188.84 L358.45 188.43 L360.00 188.00 L361.66 187.55 L363.39 187.09 L365.21 186.62 L367.12 186.12 L369.15 185.62 L371.30 185.09 L373.58 184.55 L376.00 184.00 L378.78 183.39 L382.00 182.70 L385.47 181.98 L389.00 181.25 L392.41 180.55 L395.50 179.92 L398.09 179.39 L400.00 179.00 L413.75 176.50 L418.75 177.50 L423.75 173.00 L430.00 174.50 L435.00 171.50 L441.25 172.50 L446.25 171.25 L453.75 165.60 L462.50 163.75 L465.00 160.60 L467.50 155.00" fill="none" stroke="#777" stroke-width="0.9" stroke-linejoin="round" stroke-dasharray="5.5,2.5"/>
<path d="M305.60 102.00 L305.74 100.79 L305.92 99.20 L306.14 97.30 L306.38 95.19 L306.64 92.92 L306.92 90.59 L307.21 88.25 L307.50 86.00 L307.80 83.75 L308.13 81.39 L308.47 78.96 L308.82 76.50 L309.18 74.04 L309.54 71.61 L309.90 69.25 L310.25 67.00 L310.59 64.79 L310.93 62.57 L311.27 60.36 L311.61 58.22 L311.95 56.17 L312.29 54.26 L312.64 52.52 L313.00 51.00 L313.36 49.64 L313.74 48.40 L314.12 47.30 L314.50 46.34 L314.88 45.57 L315.26 44.99 L315.63 44.63 L316.00 44.50 L316.37 44.63 L316.74 45.01 L317.11 45.61 L317.48 46.41 L317.84 47.37 L318.18 48.47 L318.50 49.69 L318.80 51.00 L319.06 52.37 L319.27 53.82 L319.47 55.39 L319.64 57.09 L319.82 58.98 L320.02 61.07 L320.24 63.40 L320.50 66.00 L320.80 68.97 L321.13 72.31 L321.49 75.94 L321.86 79.75 L322.24 83.66 L322.63 87.56 L323.01 91.38 L323.40 95.00 L323.78 98.46 L324.15 101.87 L324.53 105.23 L324.91 108.56 L325.30 111.89 L325.71 115.23 L326.14 118.59 L326.60 122.00 L327.10 125.55 L327.62 129.27 L328.18 133.06 L328.75 136.84 L329.33 140.52 L329.90 144.00 L330.46 147.19 L331.00 150.00 L331.51 152.42 L332.00 154.52 L332.49 156.37 L332.96 158.00 L333.44 159.48 L333.94 160.85 L334.45 162.17 L335.00 163.50 L335.57 164.78 L336.16 165.96 L336.76 167.03 L337.38 168.03 L338.01 168.96 L338.66 169.84 L339.32 170.68 L340.00 171.50 L340.71 172.29 L341.45 173.04 L342.22 173.75 L343.00 174.41 L343.78 175.01 L344.55 175.57 L345.29 176.06 L346.00 176.50 L346.65 176.87 L347.23 177.18 L347.77 177.43 L348.31 177.62 L348.88 177.77 L349.49 177.88 L350.19 177.96 L351.00 178.00 L352.00 177.99 L353.18 177.90 L354.48 177.76 L355.81 177.59 L357.11 177.41 L358.29 177.24 L359.28 177.09 L360.00 177.00 L361.74 176.50 L363.71 176.80 L365.86 173.65 L367.39 176.37 L369.16 173.12 L370.70 175.27 L372.37 172.02 L373.56 172.86 L375.50 171.91 L376.59 173.84 L377.66 170.64 L379.73 174.27 L381.96 170.24 L384.16 172.21 L385.97 169.77 L388.14 172.58 L390.35 168.05 L391.74 173.16 L392.72 168.96 L394.44 166.20 L395.79 168.37 L397.34 171.27 L399.19 165.37 L401.41 164.46 L403.45 163.85 L404.85 169.19 L405.76 163.51 L406.90 172.88 L408.07 170.62 L410.24 165.68 L411.62 167.50 L413.57 162.11 L415.48 170.29 L417.54 160.13 L419.71 171.36 L421.44 159.66 L423.59 166.13" fill="none" stroke="#f39a3e" stroke-width="1.1" stroke-linejoin="round"/>
<path d="M305.60 132.00 L305.74 130.44 L305.92 128.34 L306.14 125.83 L306.38 123.06 L306.64 120.16 L306.92 117.26 L307.21 114.49 L307.50 112.00 L307.80 109.72 L308.13 107.49 L308.47 105.32 L308.82 103.19 L309.18 101.10 L309.54 99.04 L309.90 97.01 L310.25 95.00 L310.59 92.97 L310.93 90.92 L311.27 88.88 L311.61 86.88 L311.95 84.95 L312.29 83.14 L312.64 81.48 L313.00 80.00 L313.36 78.65 L313.74 77.38 L314.12 76.22 L314.50 75.19 L314.88 74.32 L315.26 73.65 L315.63 73.20 L316.00 73.00 L316.36 73.06 L316.71 73.35 L317.06 73.86 L317.41 74.56 L317.76 75.45 L318.10 76.49 L318.45 77.68 L318.80 79.00 L319.14 80.45 L319.48 82.04 L319.81 83.78 L320.15 85.69 L320.49 87.75 L320.84 89.99 L321.21 92.41 L321.60 95.00 L322.00 97.84 L322.42 100.95 L322.85 104.28 L323.29 107.75 L323.74 111.32 L324.21 114.92 L324.70 118.50 L325.20 122.00 L325.73 125.54 L326.29 129.25 L326.87 133.02 L327.46 136.78 L328.06 140.44 L328.65 143.93 L329.24 147.14 L329.80 150.00 L330.33 152.50 L330.84 154.70 L331.33 156.67 L331.81 158.44 L332.31 160.06 L332.83 161.58 L333.39 163.04 L334.00 164.50 L334.66 165.92 L335.37 167.23 L336.12 168.45 L336.89 169.59 L337.67 170.66 L338.46 171.66 L339.24 172.60 L340.00 173.50 L340.76 174.34 L341.52 175.11 L342.29 175.82 L343.06 176.47 L343.82 177.06 L344.57 177.59 L345.30 178.07 L346.00 178.50 L346.65 178.87 L347.23 179.18 L347.77 179.43 L348.31 179.62 L348.88 179.77 L349.49 179.88 L350.19 179.96 L351.00 180.00 L352.00 179.99 L353.18 179.90 L354.48 179.76 L355.81 179.59 L357.11 179.41 L358.29 179.24 L359.28 179.09 L360.00 179.00 L361.60 179.26 L363.80 177.55 L365.74 178.45 L367.53 176.35 L368.46 177.06 L369.71 177.25 L371.03 178.26 L372.48 175.01 L374.47 177.99 L375.58 175.54 L377.77 177.29 L379.86 175.10 L380.87 177.64 L382.41 172.93 L384.40 176.66 L386.55 172.11 L387.95 171.99 L389.33 176.99 L390.73 175.76 L391.96 174.27 L393.57 172.77 L394.83 175.39 L395.99 172.61 L397.64 170.45 L399.77 174.09 L401.90 171.83 L402.81 174.29 L404.18 171.83 L405.45 173.00 L407.34 169.98 L408.34 175.73 L410.47 166.78 L412.13 172.65 L413.57 172.92 L415.27 169.36 L416.43 172.77 L417.48 167.14 L419.52 170.19 L421.50 174.12" fill="none" stroke="#f39a3e" stroke-width="1.1" stroke-linejoin="round"/>
<line x1="313.82" y1="125.88" x2="313.82" y2="163.24" stroke="#aaa" stroke-width="1.98"/>
<rect x="311.62" y="116.59" width="4.40" height="60.21" fill="none" stroke="#333" stroke-width="0.9"/>
<line x1="319.38" y1="133.35" x2="319.38" y2="154.70" stroke="#aaa" stroke-width="1.98"/>
<rect x="317.18" y="123.74" width="4.40" height="51.77" fill="none" stroke="#333" stroke-width="0.9"/>
<line x1="324.93" y1="170.71" x2="324.93" y2="181.39" stroke="#aaa" stroke-width="1.98"/>
<rect x="322.73" y="166.44" width="4.40" height="22.42" fill="none" stroke="#333" stroke-width="0.9"/>
<line x1="330.48" y1="188.86" x2="330.48" y2="195.26" stroke="#c4c4c4" stroke-width="1.10"/>
<rect x="328.28" y="186.19" width="4.40" height="12.81" fill="none" stroke="#333" stroke-width="0.9"/>
<line x1="336.02" y1="193.13" x2="336.02" y2="198.47" stroke="#c4c4c4" stroke-width="1.10"/>
<rect x="333.82" y="189.71" width="4.40" height="11.53" fill="none" stroke="#333" stroke-width="0.9"/>
<line x1="338.80" y1="200.39" x2="349.90" y2="200.39" stroke="#444" stroke-width="0.9"/>
<line x1="344.35" y1="198.47" x2="344.35" y2="202.74" stroke="#c4c4c4" stroke-width="1.10"/>
<rect x="342.15" y="196.01" width="4.40" height="9.07" fill="none" stroke="#333" stroke-width="0.9"/>
<line x1="349.90" y1="202.84" x2="372.10" y2="202.84" stroke="#444" stroke-width="0.9"/>
<line x1="361.00" y1="200.60" x2="361.00" y2="204.87" stroke="#c4c4c4" stroke-width="1.10"/>
<rect x="358.80" y="198.79" width="4.40" height="8.01" fill="none" stroke="#333" stroke-width="0.9"/>
<line x1="372.10" y1="199.53" x2="394.30" y2="199.53" stroke="#444" stroke-width="0.9"/>
<line x1="383.20" y1="196.87" x2="383.20" y2="202.20" stroke="#c4c4c4" stroke-width="1.10"/>
<rect x="381.00" y="194.62" width="4.40" height="9.82" fill="none" stroke="#333" stroke-width="0.9"/>
<line x1="394.30" y1="195.05" x2="438.70" y2="195.05" stroke="#444" stroke-width="0.9"/>
<line x1="416.50" y1="191.00" x2="416.50" y2="198.47" stroke="#c4c4c4" stroke-width="1.10"/>
<rect x="414.30" y="187.58" width="4.40" height="16.12" fill="none" stroke="#333" stroke-width="0.9"/>
<line x1="438.70" y1="181.28" x2="505.30" y2="181.28" stroke="#444" stroke-width="0.9"/>
<line x1="472.00" y1="167.94" x2="472.00" y2="192.06" stroke="#d0d0d0" stroke-width="0.80"/>
<rect x="469.80" y="167.94" width="4.40" height="31.06" fill="none" stroke="#333" stroke-width="0.9"/>
<rect x="330.95" y="109.86" width="4.60" height="82.20" fill="none" stroke="#ef6a2a" stroke-width="0.9"/>
<line x1="333.25" y1="108.80" x2="333.25" y2="174.98" stroke="#556" stroke-width="1.0"/>
<line x1="327.70" y1="142.21" x2="338.80" y2="142.21" stroke="#444" stroke-width="0.9"/>
<rect x="342.05" y="136.02" width="4.60" height="54.98" fill="none" stroke="#ef6a2a" stroke-width="0.9"/>
<line x1="344.35" y1="135.49" x2="344.35" y2="186.72" stroke="#556" stroke-width="1.0"/>
<line x1="338.80" y1="162.71" x2="349.90" y2="162.71" stroke="#444" stroke-width="0.9"/>
<rect x="358.70" y="169.11" width="4.60" height="37.90" fill="none" stroke="#ef6a2a" stroke-width="0.9"/>
<line x1="361.00" y1="167.51" x2="361.00" y2="201.67" stroke="#556" stroke-width="1.0"/>
<line x1="349.90" y1="184.80" x2="372.10" y2="184.80" stroke="#444" stroke-width="0.9"/>
<circle cx="313.82" cy="144.35" r="1.9" fill="#000"/>
<circle cx="319.38" cy="144.35" r="1.9" fill="#000"/>
<circle cx="324.93" cy="176.05" r="1.9" fill="#000"/>
<circle cx="330.48" cy="192.06" r="1.9" fill="#000"/>
<circle cx="336.02" cy="195.59" r="1.9" fill="#000"/>
<circle cx="344.35" cy="200.39" r="1.9" fill="#000"/>
<circle cx="361.00" cy="202.84" r="1.9" fill="#000"/>
<circle cx="383.20" cy="199.53" r="1.9" fill="#000"/>
<circle cx="416.50" cy="195.05" r="1.9" fill="#000"/>
<rect x="470.70" y="179.98" width="2.60" height="2.60" fill="#fff" stroke="#333" stroke-width="0.8"/>
<path d="M332.03 139.31 H334.47 V140.99 H336.15 V143.43 H334.47 V145.11 H332.03 V143.43 H330.35 V140.99 H332.03Z" fill="#e8561a" stroke="#b04010" stroke-width="0.5" stroke-linejoin="round"/>
<path d="M343.13 159.81 H345.57 V161.49 H347.25 V163.92 H345.57 V165.61 H343.13 V163.92 H341.45 V161.49 H343.13Z" fill="#e8561a" stroke="#b04010" stroke-width="0.5" stroke-linejoin="round"/>
<path d="M359.78 181.90 H362.22 V183.59 H363.90 V186.02 H362.22 V187.70 H359.78 V186.02 H358.10 V183.59 H359.78Z" fill="#e8561a" stroke="#b04010" stroke-width="0.5" stroke-linejoin="round"/>
<rect x="306.80" y="106.40" width="3.00" height="10.00" fill="#505050" stroke="none" stroke-width="0"/>
<g transform="translate(281.75,27.0) rotate(-90)"><text x="0" y="0" font-size="14.8" font-style="italic" style="stroke-width:0.08px">R</text><text x="10.6" y="4.25" font-size="9.4" style="stroke-width:0.08px">AA</text></g>
<text x="459.0" y="247.4" font-size="12.6" font-style="italic">p</text>
<text x="468.1" y="255.1" font-size="9">T</text>
<text x="477.8" y="247.4" font-size="12.6" textLength="50.7" lengthAdjust="spacingAndGlyphs">(GeV/<tspan font-style="italic">c</tspan>)</text>
<text x="317.30" y="22.90" font-size="10.2" text-anchor="start" textLength="28.00" lengthAdjust="spacingAndGlyphs" >ALICE</text>
<text x="380.70" y="22.90" font-size="10.2" text-anchor="start" textLength="61.60" lengthAdjust="spacingAndGlyphs" >0-10% Pb-Pb,</text>
<path d="M445.60 18.60 L446.60 18.00 L448.30 25.00 L450.00 14.50 H465.10" stroke="#000" stroke-width="0.6" fill="none"/>
<text x="450.6" y="22.9" font-size="9.6" font-style="italic">s</text>
<text x="455.9" y="25.6" font-size="6.6" textLength="9.2" lengthAdjust="spacingAndGlyphs">NN</text>
<text x="467.60" y="22.90" font-size="10.2" text-anchor="start" textLength="49.80" lengthAdjust="spacingAndGlyphs" >= 2.76 TeV</text>
<circle cx="373.6" cy="53.4" r="2.0" fill="#000"/>
<text x="392.0" y="55.9" font-size="10.2" textLength="124.2" lengthAdjust="spacingAndGlyphs">Average D<tspan dy="-4" font-size="6.6">0</tspan><tspan dy="4">, D</tspan><tspan dy="-4" font-size="6.6">+</tspan><tspan dy="4">, D</tspan><tspan dy="-4" font-size="6.6">*+</tspan><tspan dy="4"> , |</tspan><tspan font-style="italic">y</tspan>|&lt;0.5</text>
<circle cx="373.6" cy="63.3" r="1.8" fill="#fff" stroke="#333" stroke-width="0.65"/>
<text x="392.0" y="65.2" font-size="8.2" textLength="117.8" lengthAdjust="spacingAndGlyphs">with <tspan font-style="italic">p</tspan><tspan dy="2.2" font-size="5.6">T</tspan><tspan dy="-2.2">-extrapolated pp reference</tspan></text>
<path d="M372.28 79.70 H374.72 V81.38 H376.40 V83.82 H374.72 V85.50 H372.28 V83.82 H370.60 V81.38 H372.28Z" fill="#e8561a" stroke="#b04010" stroke-width="0.5" stroke-linejoin="round"/>
<text x="392.4" y="84.4" font-size="10.2">D<tspan dy="2.3" font-size="6.8">s</tspan><tspan dx="-3.6" dy="-7.0" font-size="5.8">+</tspan><tspan dy="4.7" dx="0.2"> , |</tspan><tspan font-style="italic">y</tspan>|&lt;0.5</text>
<text x="389.60" y="125.90" font-size="9.9" text-anchor="start" textLength="112.60" lengthAdjust="spacingAndGlyphs" >TAMU, PLB 735 (2014) 445</text>
<line x1="391.6" y1="134.1" x2="400.8" y2="134.1" stroke="#888" stroke-width="1.0"/>
<text x="405.60" y="136.50" font-size="9.1" text-anchor="start" textLength="54.60" lengthAdjust="spacingAndGlyphs" >Non-strange D</text>
<line x1="391.6" y1="145.9" x2="400.8" y2="145.9" stroke="#f39a3e" stroke-width="1.0"/>
<text x="405.6" y="148.3" font-size="9.1">D<tspan dx="-1.0" dy="1.5" font-size="7.0">s</tspan><tspan dx="-3.3" dy="-6.1" font-size="5.6">+</tspan></text>
</svg>
</body></html>
